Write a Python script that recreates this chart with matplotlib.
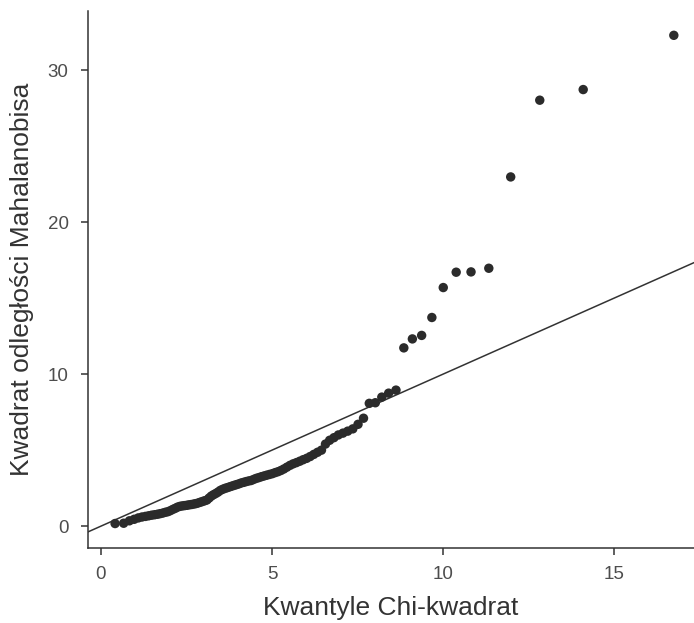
import matplotlib
matplotlib.use("Agg")
import matplotlib.pyplot as plt

# Chi-square quantiles (theoretical, df=5, n=100)
chi2_quantiles = [
    0.412, 0.663, 0.831, 0.971, 1.091, 1.199, 1.300, 1.394, 1.483, 1.568,
    1.651, 1.730, 1.808, 1.883, 1.957, 2.029, 2.100, 2.170, 2.239, 2.308,
    2.376, 2.443, 2.509, 2.575, 2.641, 2.707, 2.772, 2.837, 2.902, 2.967,
    3.032, 3.097, 3.162, 3.227, 3.292, 3.357, 3.423, 3.489, 3.555, 3.622,
    3.689, 3.756, 3.824, 3.892, 3.961, 4.031, 4.101, 4.172, 4.243, 4.315,
    4.387, 4.461, 4.536, 4.611, 4.688, 4.766, 4.845, 4.925, 5.007, 5.090,
    5.174, 5.260, 5.347, 5.436, 5.527, 5.620, 5.715, 5.812, 5.911, 6.013,
    6.116, 6.223, 6.333, 6.447, 6.564, 6.686, 6.811, 6.941, 7.075, 7.215,
    7.363, 7.516, 7.676, 7.845, 8.022, 8.211, 8.411, 8.626, 8.855, 9.105,
    9.376, 9.675, 10.008, 10.386, 10.82, 11.34, 11.98, 12.83, 14.10, 16.75,
]

# Sorted squared Mahalanobis distances
mahal_sq = [
    0.17, 0.19, 0.35, 0.45, 0.54, 0.60, 0.64, 0.68, 0.72, 0.75,
    0.78, 0.82, 0.86, 0.91, 0.95, 1.02, 1.10, 1.17, 1.25, 1.30,
    1.33, 1.35, 1.37, 1.40, 1.42, 1.45, 1.48, 1.52, 1.57, 1.62,
    1.67, 1.72, 1.85, 1.98, 2.07, 2.15, 2.24, 2.35, 2.42, 2.48,
    2.53, 2.58, 2.63, 2.68, 2.73, 2.78, 2.84, 2.88, 2.93, 2.97,
    3.00, 3.07, 3.14, 3.19, 3.25, 3.30, 3.35, 3.40, 3.45, 3.52,
    3.58, 3.66, 3.76, 3.88, 4.00, 4.10, 4.18, 4.27, 4.37, 4.46,
    4.58, 4.72, 4.86, 5.00, 5.40, 5.65, 5.82, 6.00, 6.12, 6.25,
    6.40, 6.70, 7.10, 8.08, 8.12, 8.49, 8.75, 8.95, 11.73, 12.32,
    12.55, 13.73, 15.70, 16.71, 16.73, 16.97, 22.98, 28.03, 28.73, 32.30,
]

x_ticks = [0, 5, 10, 15]
y_ticks = [0, 10, 20, 30]
x_label = "Kwantyle Chi-kwadrat"
y_label = "Kwadrat odległości Mahalanobisa"

plt.rcParams['font.family'] = ['Liberation Sans', 'DejaVu Sans']

fig = plt.figure(figsize=(6.94, 6.23), dpi=100)
ax = fig.add_axes([88/694, 1 - 548/623, 1 - 88/694, (548 - 11)/623])

xlim = (-0.38, 17.34)
ylim = (-1.44, 33.9)
ax.plot(xlim, xlim, color='#333333', linewidth=1.1, zorder=1)
ax.scatter(chi2_quantiles, mahal_sq, s=46, color='#2b2b2b', edgecolors='none', zorder=2)

ax.set_xlim(*xlim)
ax.set_ylim(*ylim)
ax.set_xticks(x_ticks)
ax.set_yticks(y_ticks)
ax.set_xticklabels([str(t) for t in x_ticks])
ax.set_yticklabels([str(t) for t in y_ticks])

for side in ['top', 'right']:
    ax.spines[side].set_visible(False)
for side in ['left', 'bottom']:
    ax.spines[side].set_color('#333333')
    ax.spines[side].set_linewidth(1.1)

ax.tick_params(axis='both', colors='#333333', length=5, width=1.1,
               labelsize=13.5, labelcolor='#4d4d4d')
ax.tick_params(axis='x', pad=8)
ax.tick_params(axis='y', pad=9)

ax.set_xlabel(x_label, fontsize=19, color='#333333', labelpad=9)
ax.set_ylabel(y_label, fontsize=19, color='#333333', labelpad=10)

fig.savefig('out.png', dpi=100)
